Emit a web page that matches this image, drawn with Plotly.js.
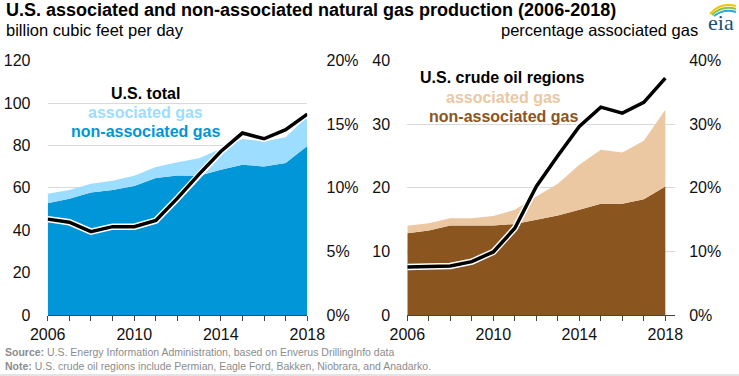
<!DOCTYPE html>
<html>
<head>
<meta charset="utf-8">
<script src="https://cdn.plot.ly/plotly-3.0.1.min.js"></script>
<style>html,body{margin:0;padding:0;background:#fff;}#chart{width:739px;height:376px;}</style>
</head>
<body>
<div id="chart"></div>
<script>
// ---- data ----
const years = [2006,2007,2008,2009,2010,2011,2012,2013,2014,2015,2016,2017,2018];
// U.S. total (billion cubic feet per day)
const usNonAssociated = [52.7,54.8,57.8,59.0,60.9,64.6,65.8,65.7,68.5,70.9,70.1,71.7,79.8];
const usTotal         = [57.2,59.0,61.9,63.3,65.7,69.8,72.1,74.0,78.4,83.0,81.9,83.9,93.7];
const usPctAssociated = [7.54,7.30,6.56,6.95,6.95,7.43,9.19,11.08,12.86,14.31,13.86,14.57,15.80];
// U.S. crude oil regions (billion cubic feet per day)
const oilNonAssociated = [12.86,13.28,14.07,14.07,14.07,14.33,14.96,15.64,16.54,17.48,17.48,18.22,20.21];
const oilTotal         = [14.02,14.44,15.22,15.22,15.59,16.54,18.64,20.63,23.62,25.98,25.56,27.40,32.28];
const oilPctAssociated = [7.56,7.66,7.72,8.40,9.92,13.65,20.21,25.04,29.66,32.70,31.76,33.44,37.27];

const W = 739, H = 376;
const px = x => x / W;
const py = y => 1 - y / H;

const darkBlue = '#0096D7', lightBlue = '#9DDDFF';
const brown = '#8B5520', tan = '#EBC8A1';
const FONT = 'Liberation Sans, Arial, sans-serif';

const traces = [
  {x: years, y: usNonAssociated, xaxis:'x', yaxis:'y', mode:'lines', line:{width:0, color:darkBlue}, fill:'tozeroy', fillcolor:darkBlue, hoverinfo:'skip'},
  {x: years, y: usTotal, xaxis:'x', yaxis:'y', mode:'lines', line:{width:0, color:lightBlue}, fill:'tonexty', fillcolor:lightBlue, hoverinfo:'skip'},
  {x: years, y: usPctAssociated, xaxis:'x', yaxis:'y2', mode:'lines', line:{width:6.5, color:'#ffffff'}, hoverinfo:'skip'},
  {x: years, y: usPctAssociated, xaxis:'x', yaxis:'y2', mode:'lines', line:{width:3.5, color:'#000000'}, hoverinfo:'skip'},
  {x: years, y: oilNonAssociated, xaxis:'x2', yaxis:'y3', mode:'lines', line:{width:0, color:brown}, fill:'tozeroy', fillcolor:brown, hoverinfo:'skip'},
  {x: years, y: oilTotal, xaxis:'x2', yaxis:'y3', mode:'lines', line:{width:0, color:tan}, fill:'tonexty', fillcolor:tan, hoverinfo:'skip'},
  {x: years, y: oilPctAssociated, xaxis:'x2', yaxis:'y4', mode:'lines', line:{width:6.5, color:'#ffffff'}, hoverinfo:'skip'},
  {x: years, y: oilPctAssociated, xaxis:'x2', yaxis:'y4', mode:'lines', line:{width:3.5, color:'#000000'}, hoverinfo:'skip'}
];

const tickFont = {family: FONT, size: 16, color: '#111'};
const yDom = [py(315), py(60.7)];

function xAxis(domain, range, anchor){
  return {
    domain: domain, range: range, anchor: anchor,
    tickmode:'linear', tick0:2006, dtick:4,
    ticks:'outside', ticklen:5, tickwidth:1, tickcolor:'#444',
    minor:{dtick:1, tick0:2006, ticks:'outside', ticklen:5, tickwidth:1, tickcolor:'#444', showgrid:false},
    showline:true, linecolor:'#444', linewidth:1,
    showgrid:false, zeroline:false, tickfont: tickFont, fixedrange:true
  };
}
function yAxisLeft(range, dtick, anchor){
  return {
    domain: yDom, range: range, anchor: anchor, dtick: dtick, tick0:0,
    showgrid:true, gridcolor:'#D9D9D9', gridwidth:1, zeroline:false,
    showline:false, ticks:'outside', ticklen:13, tickcolor:'rgba(0,0,0,0)',
    tickfont: tickFont, fixedrange:true
  };
}
function yAxisRight(range, dtick, overlaying, anchor, len){
  return {
    domain: yDom, range: range, overlaying: overlaying, anchor: anchor, side:'right',
    dtick: dtick, tick0:0, ticksuffix:'%', showgrid:false, zeroline:false, showline:false,
    ticks:'outside', ticklen: len, tickcolor:'rgba(0,0,0,0)', tickfont: tickFont, fixedrange:true
  };
}

const annFont = (c) => ({family: FONT, size: 16, color: c});
const footFont = {family: FONT, size: 10.5, color: '#8C8C8C'};
const annotations = [
  {text:'<b>U.S. associated and non-associated natural gas production (2006-2018)</b>', x:px(4), y:py(10), xanchor:'left', yanchor:'middle', font:{family:FONT, size:18, color:'#000'}},
  {text:'billion cubic feet per day', x:px(4), y:py(30), xanchor:'left', yanchor:'middle', font:{family:FONT, size:16.5, color:'#000'}},
  {text:'percentage associated gas', x:px(700), y:py(30), xanchor:'right', yanchor:'middle', font:{family:FONT, size:16.5, color:'#000'}},
  {text:'<b>U.S. total</b>', x:px(145), y:py(93.3), xanchor:'center', yanchor:'middle', font:annFont('#000')},
  {text:'<b>associated gas</b>', x:px(145), y:py(112.7), xanchor:'center', yanchor:'middle', font:annFont(lightBlue)},
  {text:'<b>non-associated gas</b>', x:px(145), y:py(131.7), xanchor:'center', yanchor:'middle', font:annFont(darkBlue)},
  {text:'<b>U.S. crude oil regions</b>', x:px(502.7), y:py(77.3), xanchor:'center', yanchor:'middle', font:annFont('#000')},
  {text:'<b>associated gas</b>', x:px(503.3), y:py(97.7), xanchor:'center', yanchor:'middle', font:annFont(tan)},
  {text:'<b>non-associated gas</b>', x:px(503.3), y:py(116.7), xanchor:'center', yanchor:'middle', font:annFont(brown)},
  {text:'<b>Source:</b> U.S. Energy Information Administration, based on Enverus DrillingInfo data', x:px(3), y:py(352), xanchor:'left', yanchor:'middle', font:footFont},
  {text:'<b>Note:</b> U.S. crude oil regions include Permian, Eagle Ford, Bakken, Niobrara, and Anadarko.', x:px(3), y:py(366), xanchor:'left', yanchor:'middle', font:footFont},
  {text:'eia', x:px(721), y:py(22), xanchor:'center', yanchor:'middle', font:{family:'Liberation Serif, DejaVu Serif, serif', size:22, color:'#1A4F7A'}}
].map(a => Object.assign({xref:'paper', yref:'paper', showarrow:false}, a));

function arc(x0,y0,cx,cy,x1,y1){
  return `M ${px(x0)} ${py(y0)} Q ${px(cx)} ${py(cy)} ${px(x1)} ${py(y1)}`;
}
const shapes = [
  {type:'line', xref:'paper', yref:'paper', x0:0, x1:1, y0:py(375), y1:py(375), line:{color:'#C8C8C8', width:1}},
  {type:'path', xref:'paper', yref:'paper', path: arc(710,14,720,2,736,6), line:{color:'#F2C500', width:2}},
  {type:'path', xref:'paper', yref:'paper', path: arc(712,15,722,5,736,9), line:{color:'#8CC63F', width:2}},
  {type:'path', xref:'paper', yref:'paper', path: arc(714,16,724,8,736,12), line:{color:'#29A9E1', width:2}}
];

const layout = {
  width: W, height: H,
  margin: {l:0, r:0, t:0, b:0, pad:0},
  paper_bgcolor:'#fff', plot_bgcolor:'rgba(0,0,0,0)',
  showlegend:false,
  font:{family: FONT, color:'#111'},
  xaxis: xAxis([px(47.7), px(307.3)], [2006, 2018], 'y'),
  yaxis: yAxisLeft([0,120], 20, 'x'),
  yaxis2: yAxisRight([0,20], 5, 'y', 'x', 15),
  xaxis2: xAxis([px(407.3), px(675)], [2006, 2018.45], 'y3'),
  yaxis3: yAxisLeft([0,40], 10, 'x2'),
  yaxis4: yAxisRight([0,40], 10, 'y3', 'x2', 10),
  annotations: annotations,
  shapes: shapes
};

Plotly.newPlot('chart', traces, layout, {displayModeBar:false, staticPlot:true});
</script>
</body>
</html>
